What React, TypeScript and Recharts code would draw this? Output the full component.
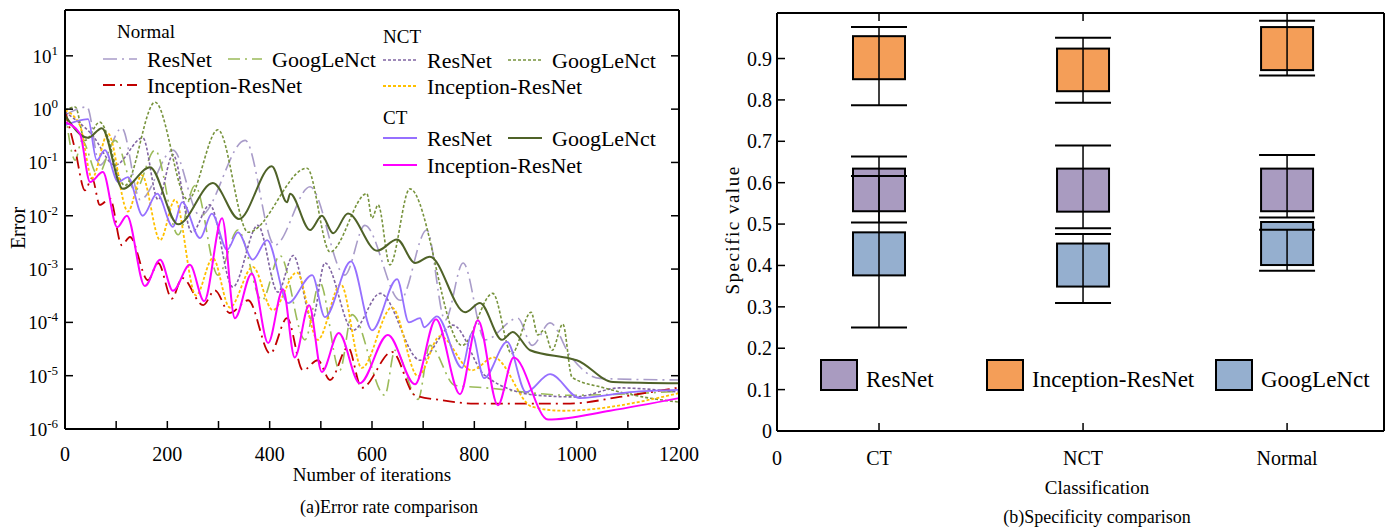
import React from 'react'
import { Bar, ComposedChart, Line, LineChart, XAxis, YAxis } from 'recharts'

const FONT = '"Liberation Serif", "Times New Roman", serif'

// (a) error vs iterations, pairs of [iteration, error]
const normalResNet = [
  [0, 0.77], [43, 1.1], [68, 0.089], [111, 0.44], [147, 0.02], [211, 0.17], [264, 0.01],
  [352, 0.26], [410, 0.0028], [479, 0.035], [547, 7.7e-4], [586, 0.0066], [655, 2.6e-4],
  [707, 0.0054], [743, 1.1e-4], [778, 0.0013], [821, 4.7e-5], [885, 1.2e-4], [913, 3.7e-5],
  [948, 9.8e-5], [987, 2.4e-5], [1045, 8.9e-6], [1200, 8.3e-6],
]
const normalGoogLeNct = [
  [0, 1.0], [20, 0.11], [33, 0.26], [64, 0.058], [98, 0.26], [137, 0.03], [176, 0.17],
  [221, 0.0044], [254, 0.037], [299, 7.7e-4], [338, 0.0054], [385, 2.6e-4], [420, 0.0018],
  [469, 4.7e-5], [498, 5.6e-4], [537, 1.26e-5], [561, 1.4e-4], [625, 4.3e-6], [645, 3.0e-5],
  [690, 3.6e-6], [713, 3.7e-5], [762, 6.6e-6], [815, 6.0e-6], [987, 4.3e-6], [1200, 5.1e-6],
]
const normalInception = [
  [0, 0.96], [20, 0.17], [39, 0.03], [53, 0.051], [68, 0.016], [88, 0.021], [111, 0.0028],
  [127, 0.004], [162, 6.2e-4], [182, 0.0013], [209, 2.8e-4], [229, 6.8e-4], [270, 2.1e-4],
  [293, 4.0e-4], [322, 1.5e-4], [358, 2.6e-4], [401, 2.6e-5], [434, 1.2e-4], [465, 1.26e-5],
  [494, 1.95e-5], [518, 8.3e-6], [553, 3.4e-5], [580, 5.9e-6], [639, 2.8e-5], [684, 4.3e-6],
  [733, 3.5e-6], [801, 3.0e-6], [987, 3.0e-6], [1084, 4.0e-6], [1200, 6.0e-6],
]
const nctResNet = [
  [0, 0.88], [53, 0.33], [98, 0.089], [152, 0.29], [182, 0.02], [211, 0.14], [248, 0.0049],
  [283, 0.016], [328, 4.6e-4], [377, 0.0066], [416, 3.7e-4], [446, 0.0018], [483, 1.1e-4],
  [508, 0.0013], [563, 7.1e-5], [616, 3.5e-4], [694, 1.95e-5], [758, 8.9e-5], [821, 1.0e-5],
  [922, 4.3e-6], [997, 4.0e-6], [1084, 5.9e-6], [1200, 4.9e-6],
]
const nctGoogLeNct = [
  [0, 0.95], [20, 1.1], [39, 0.26], [68, 0.57], [117, 0.037], [176, 1.35], [240, 0.02],
  [299, 0.41], [358, 0.0049], [473, 0.078], [518, 0.0021], [590, 0.026], [600, 0.009],
  [612, 0.016], [635, 0.0012], [674, 0.032], [776, 3.7e-5], [836, 3.5e-4], [873, 2.6e-5],
  [911, 1.55e-4], [924, 5.8e-5], [936, 7.1e-5], [952, 3.0e-5], [973, 9.3e-5], [991, 9.3e-6],
  [1051, 6.0e-6], [1129, 4.0e-6], [1200, 3.2e-6],
]
const nctInception = [
  [0, 0.96], [29, 0.5], [53, 0.051], [84, 0.35], [123, 0.012], [150, 0.058], [186, 0.0035],
  [215, 0.02], [256, 3.2e-4], [289, 0.0016], [322, 1.9e-4], [367, 0.0011], [406, 1.7e-4],
  [453, 8.7e-4], [494, 4.7e-5], [539, 5.2e-4], [580, 1.4e-5], [639, 1.9e-4], [690, 9.8e-6],
  [733, 5.5e-5], [795, 1.26e-5], [838, 2.2e-5], [913, 2.6e-6], [973, 2.2e-6], [1200, 4.7e-6],
]
const ctResNet = [
  [0, 0.5], [45, 0.65], [62, 0.11], [78, 0.17], [104, 0.043], [123, 0.053], [152, 0.01],
  [180, 0.026], [211, 0.0062], [229, 0.018], [264, 0.0038], [287, 0.011], [317, 0.0023],
  [338, 0.0049], [367, 0.0015], [395, 0.0035], [436, 2.3e-4], [483, 7.7e-4], [508, 1.26e-4],
  [559, 0.0014], [600, 7.1e-5], [649, 6.5e-4], [672, 1.0e-4], [694, 1.2e-4], [702, 8.1e-5],
  [727, 1.3e-4], [776, 1.4e-5], [795, 6.3e-5], [819, 9.0e-6], [864, 4.3e-5], [901, 4.9e-6],
  [948, 1.07e-5], [1006, 3.8e-6], [1104, 4.9e-6], [1200, 5.4e-6],
]
const ctGoogLeNct = [
  [0, 0.77], [45, 0.29], [72, 0.44], [113, 0.032], [166, 0.081], [221, 0.0069], [289, 0.041],
  [340, 0.0087], [404, 0.085], [434, 0.018], [440, 0.026], [479, 0.0054], [502, 0.01],
  [524, 0.0047], [553, 0.011], [610, 0.0022], [649, 0.0036], [684, 0.0013], [713, 0.0017],
  [782, 1.55e-4], [811, 2.3e-4], [854, 4.7e-5], [875, 6.6e-5], [909, 3.0e-5], [987, 2.1e-5],
  [1000, 1.95e-5], [1071, 7.6e-6], [1200, 7.2e-6],
]
const ctInception = [
  [0, 0.57], [29, 0.35], [49, 0.043], [74, 0.066], [102, 0.0061], [121, 0.01], [156, 4.8e-4],
  [186, 0.0015], [211, 3.9e-4], [244, 0.0012], [272, 2.5e-4], [307, 0.009], [332, 1.2e-4],
  [365, 8.3e-4], [397, 4.1e-5], [426, 4.2e-4], [449, 2.2e-5], [477, 2.1e-4], [502, 1.17e-5],
  [535, 6.3e-5], [576, 7.2e-6], [631, 5.8e-5], [684, 6.9e-6], [725, 1.15e-4], [772, 4.5e-6],
  [807, 1.1e-4], [846, 2.8e-6], [877, 2.2e-5], [944, 1.5e-6], [1065, 2.2e-6], [1200, 3.8e-6],
]

const iterTicks = [0, 100, 200, 300, 400, 500, 600, 700, 800, 900, 1000, 1100, 1200]
const errTicks = [1e-6, 1e-5, 1e-4, 1e-3, 1e-2, 1e-1, 1, 10]

const series = [
  { group: 'Normal', name: 'ResNet', data: normalResNet, color: '#a99cc9', dash: '14 5 2 5', w: 1.6 },
  { group: 'Normal', name: 'GoogLeNct', data: normalGoogLeNct, color: '#9bbb59', dash: '12 5 2 5', w: 1.6 },
  { group: 'Normal', name: 'Inception-ResNet', data: normalInception, color: '#c00000', dash: '12 5 2 5', w: 1.8 },
  { group: 'NCT', name: 'ResNet', data: nctResNet, color: '#8064a2', dash: '3 2', w: 1.6 },
  { group: 'NCT', name: 'GoogLeNct', data: nctGoogLeNct, color: '#77933c', dash: '3 2', w: 1.6 },
  { group: 'NCT', name: 'Inception-ResNet', data: nctInception, color: '#ffc000', dash: '3 2', w: 1.8 },
  { group: 'CT', name: 'ResNet', data: ctResNet, color: '#9670ff', dash: undefined, w: 1.8 },
  { group: 'CT', name: 'GoogLeNct', data: ctGoogLeNct, color: '#4f6228', dash: undefined, w: 2 },
  { group: 'CT', name: 'Inception-ResNet', data: ctInception, color: '#ff00ff', dash: undefined, w: 2 },
]

const legendGroups = [
  { group: 'Normal', tx: 117, ty: 38, x: 103, rows: [59, 85] },
  { group: 'NCT', tx: 383, ty: 43, x: 383, rows: [60, 86] },
  { group: 'CT', tx: 383, ty: 124, x: 383, rows: [138, 165] },
]

// (b) specificity, per category [low whisker, q1, q3, high whisker]
const categories = ['CT', 'NCT', 'Normal']
const categoryPos = [0.5, 1.5, 2.5]
const resNetBox = [
  [0.504, 0.531, 0.634, 0.663],
  [0.49, 0.53, 0.634, 0.69],
  [0.516, 0.531, 0.634, 0.667],
]
const inceptionBox = [
  [0.787, 0.85, 0.954, 0.976],
  [0.793, 0.821, 0.924, 0.95],
  [0.859, 0.872, 0.976, 0.991],
]
const googLeNctBox = [
  [0.25, 0.376, 0.48, 0.616],
  [0.309, 0.349, 0.453, 0.476],
  [0.387, 0.401, 0.505, 0.486],
]
const specTicks = [0, 0.1, 0.2, 0.3, 0.4, 0.5, 0.6, 0.7, 0.8, 0.9]
const edgeTicks = [0.128, 0.257, 0.385, 0.514, 0.643, 0.771, 0.9]

const boxSeries = [
  { key: 'res', name: 'ResNet', box: resNetBox, color: '#a99bc0', lx: 821 },
  { key: 'inc', name: 'Inception-ResNet', box: inceptionBox, color: '#f49e58', lx: 987 },
  { key: 'goo', name: 'GoogLeNct', box: googLeNctBox, color: '#95afcf', lx: 1216 },
]

const boxData = categories.map((c, i) => {
  const row: any = { cat: c, pos: categoryPos[i] }
  boxSeries.forEach((s) => {
    row[s.key] = [s.box[i][1], s.box[i][2]]
    row[s.key + 'W'] = [s.box[i][0], s.box[i][3]]
  })
  return row
})

const lineData = (pairs: number[][]) => pairs.map(([iter, err]) => ({ iter, err }))

const tk = { stroke: '#000', strokeWidth: 1.5 }
const txt = { fontFamily: FONT, fill: '#000' }

const IterTick = (p: any) => {
  const v = p.payload.value
  return (
    <g>
      <line x1={p.x} y1={p.y} x2={p.x} y2={p.y - 8} {...tk} />
      {v % 200 === 0 && (
        <text x={p.x} y={p.y + 32} textAnchor="middle" fontSize={20} {...txt}>
          {v}
        </text>
      )}
    </g>
  )
}
const TopTick = (p: any) => <line x1={p.x} y1={p.y} x2={p.x} y2={p.y + 8} {...tk} />
const RightTick = (p: any) => <line x1={p.x} y1={p.y} x2={p.x - 8} y2={p.y} {...tk} />
const LogTick = (p: any) => {
  const exp = Math.round(Math.log10(p.payload.value))
  return (
    <g>
      <line x1={p.x} y1={p.y} x2={p.x + 8} y2={p.y} {...tk} />
      <text x={p.x - 7} y={p.y + 7} textAnchor="end" fontSize={19} {...txt}>
        10<tspan dy={-8} fontSize={13}>{exp}</tspan>
      </text>
    </g>
  )
}
const SpecTick = (p: any) => (
  <g>
    <line x1={p.x} y1={p.y} x2={p.x + 8} y2={p.y} {...tk} />
    <text x={p.x - 5} y={p.y + 7} textAnchor="end" fontSize={20} {...txt}>
      {p.payload.value}
    </text>
  </g>
)
const CatTick = (p: any) => {
  const i = categoryPos.indexOf(p.payload.value)
  return (
    <g>
      {i >= 0 && <line x1={p.x} y1={p.y} x2={p.x} y2={p.y - 8} {...tk} />}
      <text x={p.x} y={p.y + 34} textAnchor="middle" fontSize={20} {...txt}>
        {i >= 0 ? categories[i] : '0'}
      </text>
    </g>
  )
}

const boxShape = (key: string, color: string) => (p: any) => {
  const [q1, q3] = p.payload[key]
  const [lo, hi] = p.payload[key + 'W']
  const top = Math.min(p.y, p.y + p.height)
  const h = Math.abs(p.height)
  const k = h / (q3 - q1)
  const yHi = top - (hi - q3) * k
  const yLo = top + h + (q1 - lo) * k
  const cx = p.x + p.width / 2
  return (
    <g>
      <rect x={p.x} y={top} width={p.width} height={h} fill={color} stroke="#000" strokeWidth={2} />
      <line x1={cx} x2={cx} y1={yHi} y2={yLo} stroke="#000" strokeWidth={1.5} />
      <line x1={cx - 28} x2={cx + 28} y1={yHi} y2={yHi} stroke="#000" strokeWidth={2} />
      <line x1={cx - 28} x2={cx + 28} y1={yLo} y2={yLo} stroke="#000" strokeWidth={2} />
    </g>
  )
}

const axisLine = { stroke: '#000', strokeWidth: 2 }

const App = () => {
  return (
    <div style={{ position: 'absolute', left: 0, top: 0, width: 1385, height: 527, background: '#fff' }}>
      <div style={{ position: 'absolute', left: 0, top: 0 }}>
        <LineChart width={700} height={527} margin={{ top: 9, right: 20, bottom: 48, left: 0 }}>
          <XAxis xAxisId="b" dataKey="iter" type="number" domain={[0, 1200]} ticks={iterTicks} interval={0}
            height={50} tickSize={0} tickMargin={0} tick={IterTick} axisLine={axisLine} allowDataOverflow />
          <XAxis xAxisId="t" orientation="top" dataKey="iter" type="number" domain={[0, 1200]} ticks={iterTicks}
            interval={0} height={1} tickSize={0} tickMargin={0} tick={TopTick} axisLine={axisLine} />
          <YAxis yAxisId="l" type="number" scale="log" domain={[1e-6, 72.4]} ticks={errTicks} interval={0}
            width={65} tickSize={0} tickMargin={0} tick={LogTick} axisLine={axisLine} allowDataOverflow />
          <YAxis yAxisId="r" orientation="right" type="number" scale="log" domain={[1e-6, 72.4]} ticks={errTicks}
            interval={0} width={1} tickSize={0} tickMargin={0} tick={RightTick} axisLine={axisLine} allowDataOverflow />
          {series.map((s) => (
            <Line key={s.group + s.name} xAxisId="b" yAxisId="l" data={lineData(s.data)} dataKey="err"
              type="monotone" stroke={s.color} strokeWidth={s.w} strokeDasharray={s.dash} dot={false}
              activeDot={false} isAnimationActive={false} />
          ))}
        </LineChart>
      </div>
      <div style={{ position: 'absolute', left: 700, top: 0 }}>
        <ComposedChart width={685} height={527} data={boxData} margin={{ top: 12, right: 0, bottom: 46, left: 17 }}>
          <XAxis xAxisId="res" dataKey="pos" type="number" domain={[0, 2.975]} ticks={[0, ...categoryPos]}
            interval={0} height={50} tickSize={0} tickMargin={0} tick={CatTick} axisLine={axisLine} />
          <XAxis xAxisId="inc" orientation="top" dataKey="pos" type="number" domain={[0, 2.975]} height={0} hide />
          <XAxis xAxisId="goo" orientation="top" dataKey="pos" type="number" domain={[0, 2.975]} height={0} hide />
          <XAxis xAxisId="top" orientation="top" dataKey="pos" type="number" domain={[0, 2.975]} ticks={categoryPos}
            interval={0} height={1} tickSize={0} tickMargin={0} tick={TopTick} axisLine={axisLine} />
          <YAxis yAxisId="l" type="number" domain={[0, 1.01]} ticks={specTicks} interval={0} width={60}
            tickSize={0} tickMargin={0} tick={SpecTick} axisLine={axisLine} />
          <YAxis yAxisId="r" orientation="right" type="number" domain={[0, 1.01]} ticks={edgeTicks} interval={0}
            width={1} tickSize={0} tickMargin={0} tick={RightTick} axisLine={axisLine} />
          {boxSeries.map((s) => (
            <Bar key={s.key} xAxisId={s.key} yAxisId="l" dataKey={s.key} barSize={52}
              shape={boxShape(s.key, s.color)} isAnimationActive={false} />
          ))}
        </ComposedChart>
      </div>
      <svg width={1385} height={527} style={{ position: 'absolute', left: 0, top: 0, pointerEvents: 'none' }}>
        {legendGroups.map((g) => {
          const items = series.filter((s) => s.group === g.group)
          return (
            <g key={g.group}>
              <text x={g.tx} y={g.ty} fontSize={19} {...txt}>{g.group}</text>
              {items.map((s, i) => {
                const sx = g.x + (i === 1 ? 125 : 0)
                const sy = g.rows[i === 2 ? 1 : 0]
                return (
                  <g key={s.name}>
                    <line x1={sx} x2={sx + 34} y1={sy} y2={sy} stroke={s.color} strokeWidth={s.w}
                      strokeDasharray={s.dash} />
                    <text x={sx + 44} y={sy + 8} fontSize={22} {...txt}>{s.name}</text>
                  </g>
                )
              })}
            </g>
          )
        })}
        <text transform="translate(25,228) rotate(-90)" textAnchor="middle" fontSize={20} {...txt}>Error</text>
        <text x={372} y={481} textAnchor="middle" fontSize={19} {...txt}>Number of iterations</text>
        <text x={389} y={513} textAnchor="middle" fontSize={18} {...txt}>(a)Error rate comparison</text>
        <text transform="translate(739,230) rotate(-90)" textAnchor="middle" fontSize={19} letterSpacing={1.5} {...txt}>
          Specific value
        </text>
        <text x={1097} y={494} textAnchor="middle" fontSize={19} {...txt}>Classification</text>
        <text x={1097} y={523} textAnchor="middle" fontSize={18} {...txt}>(b)Specificity comparison</text>
        {boxSeries.map((s) => (
          <g key={s.key}>
            <rect x={s.lx} y={360} width={36} height={30} fill={s.color} stroke="#000" strokeWidth={2} />
            <text x={s.lx + 45} y={387} fontSize={23} {...txt}>{s.name}</text>
          </g>
        ))}
      </svg>
    </div>
  )
}

export default App
